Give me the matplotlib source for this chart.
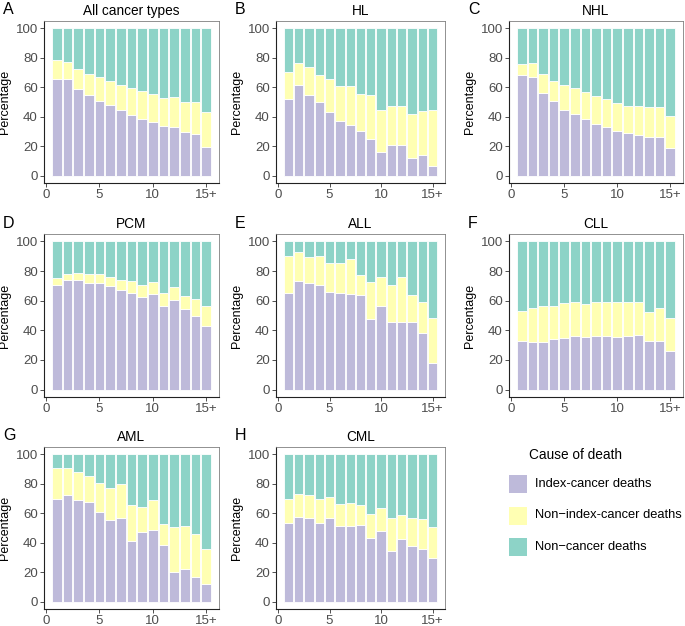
import numpy as np
import matplotlib.pyplot as plt

plt.rcParams['font.family'] = ['Liberation Sans', 'DejaVu Sans']

years = list(range(1, 16))
panels = ['A', 'B', 'C', 'D', 'E', 'F', 'G', 'H']
titles = ['All cancer types', 'HL', 'NHL', 'PCM', 'ALL', 'CLL', 'AML', 'CML']

# cumulative top of the index-cancer segment (%)
index_deaths = {
    'All cancer types': [65.3, 65.3, 58.8, 54.7, 50.9, 47.7, 44.6, 41.2, 38.5, 36.3, 33.8, 33.1, 29.5, 28.6, 19.4],
    'HL':  [52.0, 61.3, 54.7, 49.8, 43.2, 37.2, 34.7, 30.2, 25.2, 16.2, 20.9, 20.5, 11.9, 14.2, 6.5],
    'NHL': [68.2, 67.1, 56.3, 50.5, 44.6, 41.9, 38.5, 35.1, 33.1, 30.4, 29.1, 27.7, 25.9, 26.1, 18.5],
    'PCM': [70.7, 74.0, 74.0, 72.2, 71.8, 70.0, 67.5, 65.5, 62.8, 64.8, 56.7, 60.3, 54.6, 49.4, 43.1],
    'ALL': [65.0, 73.6, 72.2, 70.9, 66.1, 65.5, 64.6, 64.1, 47.9, 56.4, 45.4, 45.4, 45.4, 38.4, 18.1],
    'CLL': [32.7, 32.1, 32.1, 33.9, 35.0, 35.9, 35.7, 36.3, 36.1, 35.2, 36.1, 36.8, 32.7, 32.7, 26.2],
    'AML': [69.4, 72.7, 68.7, 67.8, 60.6, 55.2, 56.8, 41.4, 47.5, 48.4, 38.5, 20.3, 22.1, 16.9, 11.7],
    'CML': [53.2, 57.4, 56.5, 53.2, 56.5, 51.4, 51.4, 51.8, 43.2, 47.7, 34.5, 42.6, 37.8, 36.0, 29.5],
}
# cumulative top of the non-index-cancer segment (%)
cancer_deaths = {
    'All cancer types': [78.4, 77.5, 72.5, 68.9, 66.7, 64.4, 61.7, 59.5, 57.4, 55.6, 52.9, 53.2, 50.0, 50.0, 43.5],
    'HL':  [70.3, 76.6, 73.6, 68.0, 65.5, 60.6, 60.6, 55.4, 54.5, 44.8, 47.5, 47.0, 42.1, 43.9, 44.8],
    'NHL': [75.7, 76.4, 68.9, 64.2, 61.3, 59.2, 56.8, 53.8, 51.8, 49.3, 47.5, 47.5, 46.4, 46.6, 40.3],
    'PCM': [75.4, 78.3, 78.8, 77.7, 77.9, 76.1, 73.8, 73.4, 70.4, 72.7, 65.2, 69.1, 63.2, 61.4, 56.7],
    'ALL': [90.3, 92.8, 89.4, 90.3, 85.3, 85.6, 88.3, 77.4, 72.9, 75.8, 70.9, 76.3, 63.7, 58.9, 48.5],
    'CLL': [53.0, 55.0, 56.4, 56.7, 58.5, 59.1, 58.0, 59.1, 59.4, 59.4, 59.1, 59.1, 52.6, 55.3, 48.3],
    'AML': [91.0, 91.0, 88.3, 85.6, 80.4, 77.0, 80.2, 65.5, 64.2, 68.9, 52.9, 50.9, 51.1, 45.7, 35.8],
    'CML': [70.0, 73.2, 72.3, 69.6, 70.9, 66.0, 66.7, 65.3, 59.5, 63.5, 56.5, 58.8, 56.5, 55.9, 50.9],
}

labels = ['Index-cancer deaths', 'Non\u2212index-cancer deaths', 'Non\u2212cancer deaths']
colors = ['#BEBADA', '#FFFFB3', '#8DD3C7']

W, H = 685, 626
fig = plt.figure(figsize=(W / 100, H / 100), dpi=100)

col_x = [(44, 219), (276, 445), (509, 683)]
row_y = [(21, 183), (234, 397), (447, 609)]
gray = '#4D4D4D'

for i, (letter, title) in enumerate(zip(panels, titles)):
    r, c = divmod(i, 3)
    x0, x1 = col_x[c]
    y0, y1 = row_y[r]
    ax = fig.add_axes([x0 / W, 1 - y1 / H, (x1 - x0) / W, (y1 - y0) / H])
    idx = np.array(index_deaths[title])
    canc = np.array(cancer_deaths[title])
    kw = dict(width=0.9, edgecolor='white', linewidth=0.6)
    ax.bar(years, idx, color=colors[0], **kw)
    ax.bar(years, canc - idx, bottom=idx, color=colors[1], **kw)
    ax.bar(years, 100 - canc, bottom=canc, color=colors[2], **kw)
    ax.set_xlim(-0.2, 16.2)
    ax.set_ylim(-5, 105)
    ax.set_xticks([0, 5, 10, 15])
    ax.set_xticklabels(['0', '5', '10', '15+'])
    ax.set_yticks([0, 20, 40, 60, 80, 100])
    ax.tick_params(colors='#333333', labelcolor=gray, labelsize=9.5, length=3, width=0.6, pad=1.5)
    for s in ['top', 'right']:
        ax.spines[s].set_color('#7F7F7F')
        ax.spines[s].set_linewidth(0.6)
    for s in ['left', 'bottom']:
        ax.spines[s].set_color('#222222')
        ax.spines[s].set_linewidth(0.8)
    ax.set_ylabel('Percentage', fontsize=9, labelpad=3)
    ax.set_title(title, fontsize=9.8, pad=4)
    fig.text((x0 - 41) / W, 1 - (y0 - 11) / H, letter, fontsize=11.5, va='center', ha='left')

# legend
fig.text(529 / W, 1 - 455 / H, 'Cause of death', fontsize=9.8, va='center')
for k, (lab, col) in enumerate(zip(labels, colors)):
    yc = 484 + k * 31.5
    fig.patches.append(plt.Rectangle((509 / W, 1 - (yc + 9) / H), 18 / W, 18 / H,
                                     transform=fig.transFigure, facecolor=col, edgecolor='none'))
    fig.text(535 / W, 1 - yc / H, lab, fontsize=9.3, va='center')

fig.savefig('out.png', dpi=100)
